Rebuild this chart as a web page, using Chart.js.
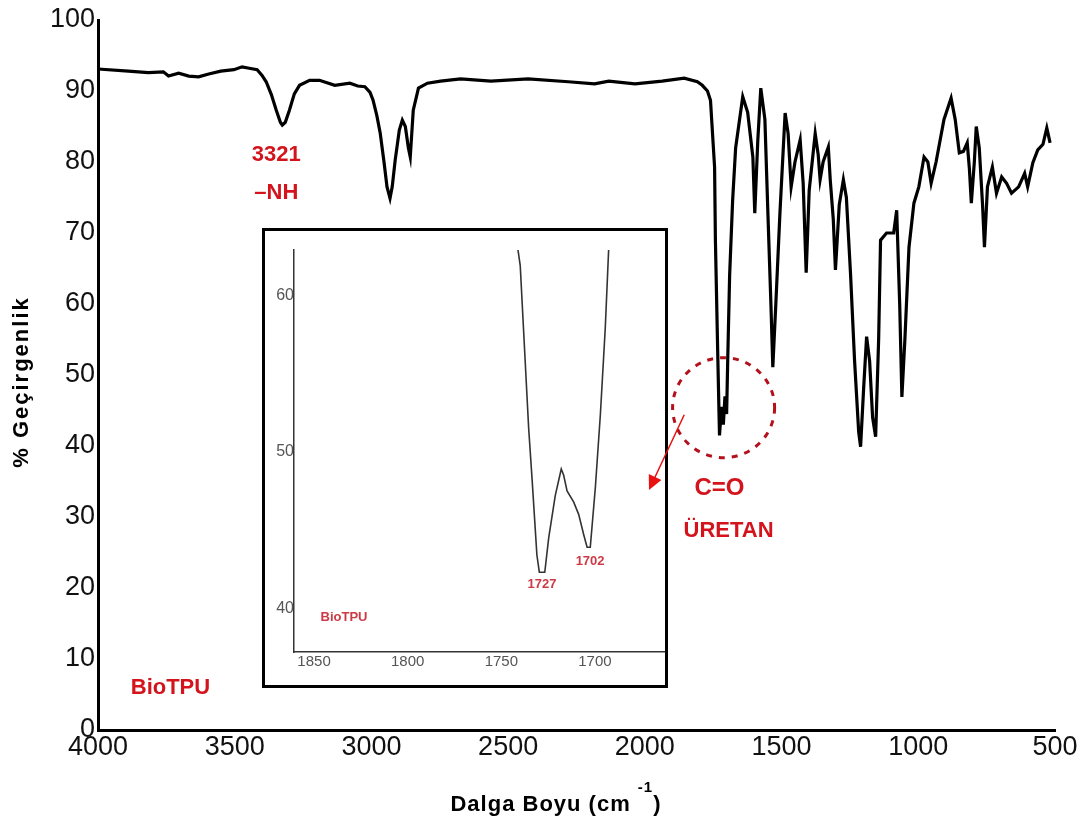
<!DOCTYPE html>
<html>
<head>
<meta charset="utf-8">
<script src="https://cdn.jsdelivr.net/npm/chart.js@4.4.0/dist/chart.umd.min.js"></script>
<style>
    html, body { margin: 0; padding: 0; background: #fff; }
    #quadro { position: relative; width: 1092px; height: 825px; }
    #detalheBox { position: absolute; left: 262px; top: 228px; width: 406px; height: 460px; z-index: 0;
                  border: 3px solid #000; box-sizing: border-box; background: #fff; }
    #grafico { position: absolute; left: 0; top: 0; z-index: 1; }
    canvas { display: block; }
</style>
</head>
<body>
<div id="quadro">
    <div id="detalheBox"><canvas id="detalhe" width="400" height="454"></canvas></div>
    <canvas id="grafico" width="1092" height="825"></canvas>
</div>
<script>
// espectro FTIR principal (cm-1 / % geçirgenlik)
const ondas = [4000, 3889, 3816, 3761, 3742, 3705, 3668, 3632, 3595, 3551, 3503, 3473, 3447, 3418, 3400,
    3385, 3366, 3348, 3333, 3326, 3315, 3300, 3282, 3263, 3226, 3190, 3134, 3079, 3050, 3024, 3005, 2994,
    2980, 2968, 2954, 2943, 2932, 2924, 2913, 2898, 2887, 2876, 2865, 2858, 2847, 2828, 2795, 2747, 2674,
    2563, 2427, 2280, 2184, 2132, 2036, 1937, 1856, 1808, 1790, 1771, 1760, 1745, 1742, 1734, 1729, 1727,
    1720, 1713, 1707, 1701, 1697, 1690, 1679, 1668, 1642, 1624, 1605, 1598, 1587, 1576, 1561, 1550, 1539,
    1532, 1521, 1506, 1487, 1476, 1465, 1451, 1432, 1421, 1410, 1399, 1377, 1366, 1359, 1348, 1329, 1322,
    1311, 1303, 1289, 1274, 1263, 1248, 1233, 1218, 1211, 1200, 1189, 1178, 1167, 1156, 1145, 1138, 1116,
    1090, 1079, 1068, 1060, 1049, 1034, 1016, 998, 979, 965, 953, 935, 906, 880, 865, 850, 835, 821, 813,
    806, 795, 788, 777, 765, 758, 747, 729, 714, 695, 677, 659, 633, 611, 600, 581, 563, 544, 530, 518];
const transmitancia = [93.1, 92.8, 92.6, 92.7, 92.1, 92.5, 92.1, 92.0, 92.4, 92.8, 93.0, 93.4, 93.2, 93.0, 92.2,
    91.3, 89.5, 87.3, 85.6, 85.2, 85.6, 87.3, 89.6, 90.8, 91.5, 91.5, 90.8, 91.1, 90.7, 90.6, 89.8, 88.7,
    86.5, 84.1, 80.0, 76.5, 74.9, 76.5, 80.3, 84.5, 85.9, 85.0, 82.0, 80.7, 87.3, 90.4, 91.1, 91.4, 91.7,
    91.4, 91.7, 91.3, 91.0, 91.4, 91.0, 91.4, 91.8, 91.3, 90.8, 90.0, 88.7, 79.3, 69.0, 54.0, 45.0, 41.5,
    45.5, 43.0, 47.0, 44.5, 52.0, 64.0, 74.6, 82.0, 89.2, 87.0, 80.7, 72.8, 83.0, 90.4, 86.0, 72.8, 60.0,
    51.1, 60.0, 72.8, 86.9, 84.0, 76.5, 80.0, 83.1, 77.0, 64.4, 76.0, 84.0, 81.0, 77.5, 80.0, 82.1, 77.5,
    72.0, 64.8, 74.0, 77.5, 75.0, 64.4, 52.0, 42.0, 39.9, 48.0, 55.4, 52.0, 44.0, 41.3, 55.0, 69.0, 70.0,
    70.0, 73.2, 60.0, 46.9, 55.0, 68.0, 74.2, 76.5, 80.7, 80.0, 77.0, 80.0, 86.0, 89.0, 86.0, 81.3, 81.5, 82.7, 79.0,
    74.2, 80.0, 85.0, 82.0, 74.0, 68.0, 76.5, 79.3, 75.6, 77.9, 77.0, 75.6, 76.5, 78.4, 76.5, 79.9, 81.7, 82.5, 84.8, 82.7];
const marcasX = [4000, 3500, 3000, 2500, 2000, 1500, 1000, 500];
const marcasY = [0, 10, 20, 30, 40, 50, 60, 70, 80, 90, 100];

// detalhe da banda C=O
const ondasDetalhe = [1741.1, 1739.9, 1735.4, 1733.6, 1731.0, 1729.7, 1726.8, 1724.7, 1721.2, 1718.0, 1716.7,
    1714.9, 1711.4, 1708.7, 1706.0, 1704.2, 1702.5, 1699.8, 1697.1, 1694.5, 1692.7];
const transDetalhe = [62.9, 61.9, 51.5, 48.3, 43.4, 42.3, 42.3, 44.5, 47.2, 48.9, 48.5,
    47.5, 46.8, 46.0, 44.7, 43.9, 43.9, 47.7, 52.4, 57.9, 62.9];
const marcasXDetalhe = [1850, 1800, 1750, 1700];
const marcasYDetalhe = [40, 50, 60];

// rótulos
const rotulos = ['3321', '–NH', 'BioTPU', 'C=O', 'ÜRETAN'];
const rotulosX = [3348, 3348, 3735, 1727, 1694];
const rotulosY = [81.0, 75.6, 5.9, 34.1, 28.0];
const rotulosDetalhe = ['1727', '1702', 'BioTPU'];
const rotulosDetalheX = [1728.3, 1702.6, 1834];
const rotulosDetalheY = [41.5, 43.0, 39.4];

const FONTE = '"Liberation Sans", Arial, sans-serif';
const VERMELHO = '#d4141c';

function textoEspacado(ctx, txt, x, y, espaco) {
    ctx.letterSpacing = espaco + 'px';
    ctx.fillText(txt, x, y);
    ctx.letterSpacing = '0px';
}

const anotacoes = {
    id: 'anotacoes',
    afterDraw(chart) {
        const ctx = chart.ctx, sx = chart.scales.x, sy = chart.scales.y;
        ctx.save();
        ctx.fillStyle = VERMELHO;
        ctx.textAlign = 'center';
        ctx.textBaseline = 'middle';
        rotulos.forEach((t, i) => {
            ctx.font = 'bold ' + (t === 'C=O' ? 24 : 22) + 'px ' + FONTE;
            ctx.fillText(t, sx.getPixelForValue(rotulosX[i]), sy.getPixelForValue(rotulosY[i]));
        });

        // círculo tracejado na banda C=O
        ctx.strokeStyle = '#b3101c';
        ctx.lineWidth = 3;
        ctx.setLineDash([6, 7]);
        ctx.beginPath();
        ctx.ellipse(sx.getPixelForValue(1712), sy.getPixelForValue(45.4), 51, 50, 0, 0, Math.PI * 2);
        ctx.stroke();
        ctx.setLineDash([]);

        // seta para o detalhe
        const x0 = sx.getPixelForValue(1856), y0 = sy.getPixelForValue(44.4);
        const x1 = sx.getPixelForValue(1985), y1 = sy.getPixelForValue(33.8);
        const ang = Math.atan2(y1 - y0, x1 - x0);
        ctx.strokeStyle = '#e81010';
        ctx.fillStyle = '#e81010';
        ctx.lineWidth = 1.5;
        ctx.beginPath();
        ctx.moveTo(x0, y0);
        ctx.lineTo(x1 - 10 * Math.cos(ang), y1 - 10 * Math.sin(ang));
        ctx.stroke();
        ctx.beginPath();
        ctx.moveTo(x1, y1);
        ctx.lineTo(x1 - 16 * Math.cos(ang - 0.45), y1 - 16 * Math.sin(ang - 0.45));
        ctx.lineTo(x1 - 16 * Math.cos(ang + 0.45), y1 - 16 * Math.sin(ang + 0.45));
        ctx.closePath();
        ctx.fill();

        // títulos dos eixos
        ctx.fillStyle = '#000';
        ctx.font = 'bold 22px ' + FONTE;
        ctx.save();
        ctx.translate(22, 382);
        ctx.rotate(-Math.PI / 2);
        textoEspacado(ctx, '% Geçirgenlik', 0, 0, 2);
        ctx.restore();

        ctx.textAlign = 'left';
        ctx.textBaseline = 'alphabetic';
        const parte1 = 'Dalga Boyu (cm ';
        ctx.letterSpacing = '1px';
        const w1 = ctx.measureText(parte1).width;
        ctx.font = 'bold 15px ' + FONTE;
        const w2 = ctx.measureText('-1').width;
        ctx.font = 'bold 22px ' + FONTE;
        const w3 = ctx.measureText(')').width;
        let x = 556 - (w1 + w2 + w3) / 2;
        ctx.fillText(parte1, x, 811);
        ctx.font = 'bold 15px ' + FONTE;
        ctx.fillText('-1', x + w1, 792);
        ctx.font = 'bold 22px ' + FONTE;
        ctx.fillText(')', x + w1 + w2, 811);
        ctx.letterSpacing = '0px';
        ctx.restore();
    }
};

const __grafico = new Chart(document.getElementById('grafico'), {
    type: 'line',
    data: {
        datasets: [{
            data: ondas.map((o, i) => ({ x: o, y: transmitancia[i] })),
            borderColor: '#000', borderWidth: 3.2, pointRadius: 0, tension: 0, fill: false
        }]
    },
    options: {
        responsive: false, animation: false, devicePixelRatio: 1,
        layout: { padding: { top: 20, right: 37, left: 0, bottom: 0 } },
        plugins: { legend: { display: false }, tooltip: { enabled: false } },
        scales: {
            x: {
                type: 'linear', reverse: true, min: 500, max: 4000,
                afterFit: (s) => { s.height = 95; },
                afterBuildTicks: (s) => { s.ticks = marcasX.map(v => ({ value: v })); },
                grid: { display: false, drawTicks: false },
                border: { color: '#000', width: 3 },
                ticks: { padding: 1, color: '#111', maxRotation: 0, autoSkip: false,
                         font: { family: FONTE, size: 27 }, callback: (v) => String(v) }
            },
            y: {
                type: 'linear', min: 0, max: 100,
                afterFit: (s) => { s.width = 98; },
                afterBuildTicks: (s) => { s.ticks = marcasY.map(v => ({ value: v })); },
                grid: { display: false, drawTicks: false },
                border: { color: '#000', width: 3 },
                ticks: { padding: 3, color: '#111', autoSkip: false,
                         font: { family: FONTE, size: 27 }, callback: (v) => String(v) }
            }
        }
    },
    plugins: [anotacoes]
});

const rotulosInset = {
    id: 'rotulosInset',
    afterDraw(chart) {
        const ctx = chart.ctx, sx = chart.scales.x, sy = chart.scales.y;
        ctx.save();
        ctx.fillStyle = '#cc3a46';
        ctx.textAlign = 'center';
        ctx.textBaseline = 'middle';
        rotulosDetalhe.forEach((t, i) => {
            ctx.font = 'bold 13px ' + FONTE;
            ctx.fillText(t, sx.getPixelForValue(rotulosDetalheX[i]), sy.getPixelForValue(rotulosDetalheY[i]));
        });
        ctx.restore();
    }
};

new Chart(document.getElementById('detalhe'), {
    type: 'line',
    data: {
        datasets: [{
            data: ondasDetalhe.map((o, i) => ({ x: o, y: transDetalhe[i] })),
            borderColor: '#333', borderWidth: 1.6, pointRadius: 0, tension: 0, fill: false
        }]
    },
    options: {
        responsive: false, animation: false, devicePixelRatio: 1,
        layout: { padding: { top: 19, right: 0, left: 0, bottom: 0 } },
        plugins: { legend: { display: false }, tooltip: { enabled: false } },
        scales: {
            x: {
                type: 'linear', reverse: true, min: 1662.6, max: 1860.7,
                afterFit: (s) => { s.height = 33; },
                afterBuildTicks: (s) => { s.ticks = marcasXDetalhe.map(v => ({ value: v })); },
                grid: { display: false, drawTicks: false },
                border: { color: '#333', width: 1.5 },
                ticks: { padding: 1, color: '#555', maxRotation: 0, autoSkip: false,
                         font: { family: FONTE, size: 15 }, callback: (v) => String(v) }
            },
            y: {
                type: 'linear', min: 37.2, max: 62.9,
                afterFit: (s) => { s.width = 29; },
                afterBuildTicks: (s) => { s.ticks = marcasYDetalhe.map(v => ({ value: v })); },
                grid: { display: false, drawTicks: false },
                border: { color: '#333', width: 1.5 },
                ticks: { padding: 0, color: '#555', autoSkip: false,
                         font: { family: FONTE, size: 16 }, callback: (v) => String(v) }
            }
        }
    },
    plugins: [rotulosInset]
});
</script>
</body>
</html>
